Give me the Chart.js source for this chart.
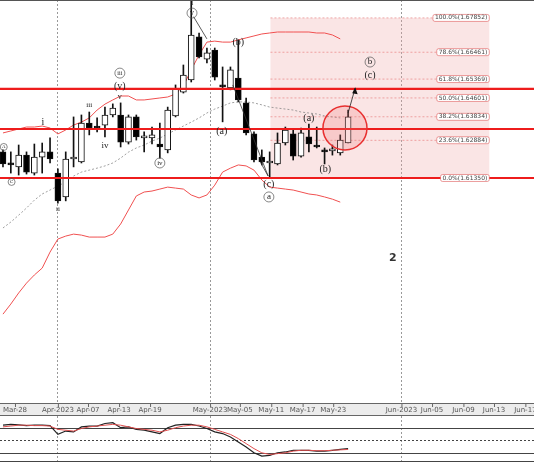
<!DOCTYPE html>
<html><head><meta charset="utf-8">
<script src="https://cdn.jsdelivr.net/npm/chart.js@4/dist/chart.umd.min.js"></script>
<style>
html,body{margin:0;padding:0;background:#fff;}
#w1{position:absolute;left:0;top:0;width:534px;height:416px;}
#w2{position:absolute;left:0;top:416px;width:534px;height:46px;}
</style></head><body>
<div id="w1"><canvas id="c1"></canvas></div>
<div id="w2"><canvas id="c2"></canvas></div>
<script>
const open  = [1.6241,1.6196,1.6180,1.6228,1.6155,1.6220,1.6241,1.6155,1.6058,1.6212,1.6200,1.6358,1.6342,1.6350,1.6391,1.6391,1.6281,1.6383,1.6298,1.6298,1.6273,1.6249,1.6387,1.6484,1.6533,1.6708,1.6618,1.6655,1.6513,1.6501,1.6541,1.6440,1.6314,1.6220,1.6196,1.6192,1.6277,1.6314,1.6224,1.6302,1.6265,1.6249,1.6245,1.6237,1.6277];
const high  = [1.6249,1.6241,1.6269,1.6241,1.6273,1.6277,1.6298,1.6172,1.6241,1.6383,1.6391,1.6403,1.6379,1.6423,1.6436,1.6440,1.6391,1.6391,1.6322,1.6342,1.6358,1.6423,1.6513,1.6594,1.6858,1.6724,1.6663,1.6663,1.6586,1.6586,1.6696,1.6460,1.6322,1.6249,1.6241,1.6318,1.6342,1.6330,1.6338,1.6354,1.6342,1.6257,1.6269,1.6310,1.6411];
const low   = [1.6180,1.6155,1.6147,1.6151,1.6147,1.6155,1.6196,1.6033,1.6042,1.6180,1.6196,1.6310,1.6322,1.6302,1.6383,1.6261,1.6273,1.6289,1.6241,1.6273,1.6216,1.6237,1.6383,1.6480,1.6525,1.6623,1.6602,1.6533,1.6363,1.6493,1.6444,1.6310,1.6200,1.6188,1.6139,1.6188,1.6269,1.6208,1.6220,1.6241,1.6257,1.6192,1.6228,1.6228,1.6277];
const close = [1.6192,1.6188,1.6228,1.6159,1.6220,1.6241,1.6212,1.6042,1.6212,1.6216,1.6358,1.6338,1.6338,1.6391,1.6419,1.6281,1.6383,1.6302,1.6306,1.6310,1.6261,1.6411,1.6497,1.6553,1.6716,1.6627,1.6643,1.6545,1.6505,1.6574,1.6452,1.6318,1.6208,1.6200,1.6196,1.6277,1.6330,1.6224,1.6318,1.6273,1.6261,1.6241,1.6245,1.6289,1.6383];
const bandUpper = [1.6318,1.6326,1.6334,1.6342,1.6342,1.6346,1.6338,1.6314,1.6330,1.6350,1.6362,1.6379,1.6411,1.6435,1.6452,1.6468,1.6468,1.6452,1.6452,1.6456,1.6460,1.6464,1.6476,1.6509,1.6574,1.6635,1.6687,1.6691,1.6687,1.6687,1.6696,1.6704,1.6712,1.6720,1.6724,1.6728,1.6728,1.6728,1.6728,1.6728,1.6724,1.6724,1.6716,1.6700,null];
const bandMid = [1.5932,1.5956,1.5984,1.6013,1.6045,1.6070,1.6086,1.6102,1.6119,1.6143,1.6159,1.6167,1.6175,1.6184,1.6196,1.6216,1.6240,1.6257,1.6269,1.6285,1.6297,1.6314,1.6330,1.6346,1.6362,1.6379,1.6399,1.6415,1.6427,1.6440,1.6444,1.6444,1.6440,1.6432,1.6423,1.6419,1.6415,1.6411,1.6403,1.6399,1.6395,1.6387,1.6383,1.6379,null];
const bandLower = [1.5582,1.5623,1.5668,1.5708,1.5741,1.5769,1.5834,1.5887,1.5899,1.5907,1.5903,1.5895,1.5895,1.5895,1.5907,1.5948,1.6005,1.6062,1.6078,1.6082,1.6090,1.6098,1.6094,1.6090,1.6066,1.6054,1.6066,1.6106,1.6159,1.6175,1.6188,1.6184,1.6167,1.6127,1.6098,1.6094,1.6090,1.6086,1.6078,1.6070,1.6066,1.6058,1.6049,1.6037,null];
const oscMain = [86,88,87,85,86,86,85,64,72,70,82,84,84,90,92,80,82,76,74,70,66,80,86,88,88,84,78,70,66,58,46,34,20,12,14,20,22,26,26,26,24,24,26,28,30];
const oscSignal = [82,84,86,86,85,85,84,76,74,72,78,82,84,86,88,86,82,78,76,74,70,74,80,84,86,86,82,76,70,64,54,42,30,20,16,18,20,24,26,26,25,25,26,27,28];
const levels = [1.6497,1.6334,1.6135];
const fibPct = ['100.0%','78.6%','61.8%','50.0%','38.2%','23.6%','0.0%'];
const fibPrice = [1.67852,1.66461,1.65369,1.64601,1.63834,1.62884,1.61350];
const tickLabels = ['Mar-28','Apr-2023','Apr-07','Apr-13','Apr-19','May-2023','May-05','May-11','May-17','May-23','Jun-2023','Jun-05','Jun-09','Jun-13','Jun-17'];
const tickPos = [1.53,7.0,10.84,14.8,18.75,26.4,30.2,34.2,38.2,42.1,50.8,54.7,58.7,62.6,66.6];
const monthTicks = ['Apr-2023','May-2023','Jun-2023'];

const XMIN=-0.38, XMAX=67.7, FIB0=34.1, FIB1=62.0;
const idx = open.map((_,i)=>i);
const wick = idx.map(i=>({x:i,y:[low[i],high[i]]}));
const body = idx.map(i=>({x:i,y:[Math.min(open[i],close[i]),Math.max(open[i],close[i])]}));
const bodyColor = idx.map(i=>close[i]>=open[i]?'#fff':'#000');
const line = arr => arr.map((v,i)=>({x:i,y:v}));
const FONT = 'DejaVu Sans, sans-serif';

const xScaleCommon = (axisH)=>({
  type:'linear', min:XMIN, max:XMAX, offset:false,
  afterBuildTicks: s => { s.ticks = tickPos.map(v=>({value:v})); },
  ticks:{display:false, autoSkip:false, maxRotation:0, callback:(v,i)=>tickLabels[i]},
  grid:{ offset:false, drawOnChartArea:true, drawTicks:false,
    color: c => (c.index!==undefined && monthTicks.includes(tickLabels[c.index])) ? '#999' : 'rgba(0,0,0,0)',
    lineWidth:1 },
  border:{display:false,dash:[2,2]},
  afterFit: s => { s.height=axisH; }
});

const annot = {
  id:'annot',
  beforeDatasetsDraw(ch){
    const {ctx,scales:{x,y}} = ch;
    ctx.save();
    const x0=x.getPixelForValue(FIB0), x1=x.getPixelForValue(FIB1);
    const yt=y.getPixelForValue(fibPrice[0]), yb=y.getPixelForValue(fibPrice[fibPrice.length-1]);
    ctx.fillStyle='rgba(240,170,170,0.3)';
    ctx.fillRect(x0,yt,x1-x0,yb-yt);
    ctx.restore();
  },
  afterDraw(ch){
    const {ctx,chartArea:a,scales:{x}} = ch;
    ctx.save();
    ctx.fillStyle='#ececec'; ctx.fillRect(0,a.bottom+1,534,12);
    ctx.strokeStyle='#666'; ctx.lineWidth=1;
    ctx.beginPath(); ctx.moveTo(0,a.bottom+0.5); ctx.lineTo(534,a.bottom+0.5); ctx.stroke();
    ctx.beginPath(); ctx.moveTo(0,a.bottom+12.5); ctx.lineTo(534,a.bottom+12.5); ctx.stroke();
    ctx.font='7px '+FONT; ctx.fillStyle='#555'; ctx.textAlign='center'; ctx.textBaseline='middle';
    tickPos.forEach((t,i)=>{const px=x.getPixelForValue(t);
      ctx.beginPath(); ctx.moveTo(px+0.5,a.bottom+1); ctx.lineTo(px+0.5,a.bottom+4); ctx.stroke();
      ctx.fillText(tickLabels[i],px,a.bottom+7.5);});
    ctx.restore();
  },
  afterDatasetsDraw(ch){
    const {ctx,scales:{x,y}} = ch;
    const P=(k,p)=>[x.getPixelForValue(k),y.getPixelForValue(p)];
    ctx.save();
    const x1=x.getPixelForValue(FIB1);
    ctx.font='6px '+FONT; ctx.textBaseline='middle'; ctx.textAlign='right';
    fibPrice.forEach((fp,i)=>{
      const t=fibPct[i]+'('+fp.toFixed(5)+')';
      const py=y.getPixelForValue(fp); const w=ctx.measureText(t).width+4;
      ctx.fillStyle='#fff'; ctx.strokeStyle='rgba(220,80,80,0.7)'; ctx.lineWidth=0.8;
      ctx.beginPath(); ctx.roundRect(x1-w,py-3.5,w,7,2); ctx.fill(); ctx.stroke();
      ctx.fillStyle='#444'; ctx.fillText(t,x1-2,py);
    });
    let [cx,cy]=P(43.6,1.6338);
    ctx.beginPath(); ctx.arc(cx,cy,22,0,Math.PI*2);
    ctx.fillStyle='rgba(240,120,120,0.25)'; ctx.fill();
    ctx.strokeStyle='#e83030'; ctx.lineWidth=1.5; ctx.stroke();
    let [ax,ay]=P(44,1.6399),[bx,by]=P(44.9,1.6500);
    ctx.strokeStyle='#222'; ctx.lineWidth=0.8; ctx.beginPath(); ctx.moveTo(ax,ay); ctx.lineTo(bx,by); ctx.stroke();
    ctx.fillStyle='#111'; ctx.beginPath(); ctx.moveTo(bx,by-1); ctx.lineTo(bx-3,by+5); ctx.lineTo(bx+2.5,by+6); ctx.closePath(); ctx.fill();
    const seg=(a,b,c,d)=>{const [p1,q1]=P(a,b),[p2,q2]=P(c,d);ctx.beginPath();ctx.moveTo(p1,q1);ctx.lineTo(p2,q2);ctx.stroke();};
    ctx.strokeStyle='#333'; ctx.lineWidth=0.8;
    seg(24.3,1.6790,26.0,1.6700);
    seg(29.3,1.6513,33.8,1.6143);
    seg(32.8,1.6200,33.8,1.6143);
    ctx.textAlign='center'; ctx.textBaseline='middle';
    const txt=(k,p,t,s,circ)=>{const [px,py]=P(k,p); ctx.font=(s||10)+'px "Liberation Serif", serif'; ctx.fillStyle='#222'; ctx.fillText(t,px,py);
      if(circ){ctx.beginPath();ctx.arc(px,py,circ,0,Math.PI*2);ctx.strokeStyle='#555';ctx.lineWidth=0.7;ctx.stroke();}};
    txt(5.1,1.6362,'i');
    txt(14.9,1.6561,'iii',6,5);
    txt(14.9,1.6509,'(v)');
    txt(14.9,1.6464,'v',8);
    txt(11,1.6429,'iii',7);
    txt(13,1.6265,'iv',9);
    txt(20,1.6196,'iv',7,5);
    txt(7,1.6009,'ii',7);
    txt(24.1,1.6846,'I',8);
    txt(24.1,1.6805,'v',8,5);
    txt(30,1.6687,'(b)');
    txt(27.9,1.6326,'(a)');
    txt(33.9,1.6110,'(c)');
    txt(33.9,1.6058,'a',9,5);
    txt(39,1.6379,'(a)');
    txt(41.1,1.6171,'(b)');
    txt(46.8,1.6606,'b',9,5);
    txt(46.8,1.6553,'(c)');
    txt(0.1,1.6261,'A',5,3.5);
    txt(1.1,1.6119,'C',5,3.5);
    ctx.font='bold 11px '+FONT; ctx.fillStyle='#333';
    const [tx,ty]=P(49.7,1.5810); ctx.fillText('2',tx,ty);
    ctx.strokeStyle='#555'; ctx.lineWidth=1; ctx.beginPath(); ctx.moveTo(0,0.5); ctx.lineTo(534,0.5); ctx.stroke();
    ctx.restore();
  }
};

const ds = [];
levels.forEach(l=>ds.push({type:'line',data:[{x:XMIN,y:l},{x:XMAX,y:l}],borderColor:'#ee1c1c',borderWidth:2.2,pointRadius:0,order:0}));
fibPrice.forEach(f=>ds.push({type:'line',data:[{x:FIB0,y:f},{x:FIB1,y:f}],borderColor:'rgba(225,90,90,0.7)',borderWidth:0.7,borderDash:[2,2],pointRadius:0,order:5}));
ds.push({type:'line',data:line(bandUpper),borderColor:'#f05050',borderWidth:1,pointRadius:0,spanGaps:false,order:4});
ds.push({type:'line',data:line(bandLower),borderColor:'#f05050',borderWidth:1,pointRadius:0,order:4});
ds.push({type:'line',data:line(bandMid),borderColor:'#888',borderWidth:0.8,borderDash:[2,2],pointRadius:0,order:4});
ds.push({type:'bar',data:wick,backgroundColor:'#111',barThickness:1,grouped:false,order:3});
ds.push({type:'bar',data:body,backgroundColor:bodyColor,borderColor:'#111',borderWidth:1,borderSkipped:false,barThickness:6,grouped:false,minBarLength:2,order:2});

new Chart(document.getElementById('c1'),{
  data:{datasets:ds},
  options:{responsive:true,maintainAspectRatio:false,animation:false,
    layout:{padding:0},
    plugins:{legend:{display:false},tooltip:{enabled:false}},
    scales:{ x:xScaleCommon(13), y:{min:1.5221,max:1.6858,display:false} }
  },
  plugins:[annot]
});

const oscLines = {
  id:'osclines',
  beforeDatasetsDraw(ch){
    const {ctx,chartArea:a,scales:{y}}=ch;
    ctx.save(); ctx.strokeStyle='#444'; ctx.lineWidth=1;
    [80,20].forEach(v=>{const py=Math.round(y.getPixelForValue(v))+0.5;ctx.beginPath();ctx.moveTo(a.left,py);ctx.lineTo(a.right,py);ctx.stroke();});
    ctx.setLineDash([2,2]); const py=Math.round(y.getPixelForValue(50))+0.5;
    ctx.beginPath();ctx.moveTo(a.left,py);ctx.lineTo(a.right,py);ctx.stroke();
    ctx.setLineDash([]); ctx.beginPath(); ctx.moveTo(a.left,a.bottom-0.5); ctx.lineTo(a.right,a.bottom-0.5); ctx.stroke();
    ctx.restore();
  }
};
new Chart(document.getElementById('c2'),{
  type:'line',
  data:{datasets:[
    {data:line(oscSignal),borderColor:'#e05050',borderWidth:1,pointRadius:0},
    {data:line(oscMain),borderColor:'#222',borderWidth:1.2,pointRadius:0}
  ]},
  options:{responsive:true,maintainAspectRatio:false,animation:false,layout:{padding:0},
    plugins:{legend:{display:false},tooltip:{enabled:false}},
    scales:{ x:xScaleCommon(0), y:{min:-2,max:108,display:false} }
  },
  plugins:[oscLines]
});
</script></body></html>
